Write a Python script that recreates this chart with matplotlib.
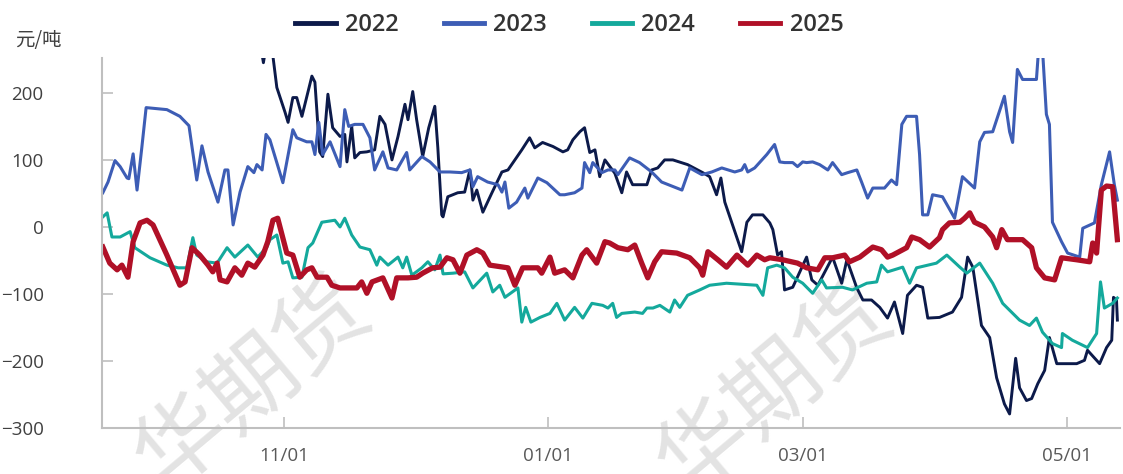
import numpy as np
import matplotlib
matplotlib.use("Agg")
import matplotlib.pyplot as plt

# x = days counted from 09/20, y = spread in 元/吨
pts_2022 = [(36.8, 265), (37.3, 245), (37.8, 265), (39.3, 265), (40.4, 208), (42.3, 171), (43.0, 156),
            (44.1, 193), (45.0, 193), (46.2, 165), (48.5, 225), (49.2, 216), (50.3, 112), (51.0, 105),
            (52.2, 198), (53.3, 148), (55.0, 135), (56.1, 138), (56.6, 97), (57.7, 150), (58.4, 103),
            (59.6, 111), (61.2, 112), (63.0, 115), (64.2, 165), (65.4, 153), (67.0, 100), (68.4, 135),
            (70.0, 183), (70.7, 160), (71.8, 202), (72.7, 160), (74.1, 105), (75.5, 148), (76.9, 180),
            (77.6, 118), (78.5, 18), (78.8, 15), (79.9, 45), (82.2, 51), (83.8, 52), (85.0, 85),
            (85.7, 40), (86.6, 55), (88.0, 22), (90.1, 51), (92.4, 82), (93.8, 85), (97.0, 115),
            (98.8, 133), (100.0, 118), (101.8, 126), (104.2, 120), (106.5, 112), (107.6, 115),
            (108.8, 130), (110.4, 142), (111.5, 148), (112.7, 111), (113.9, 115), (114.5, 93),
            (115.0, 75), (116.2, 100), (118.5, 80), (120.1, 51), (121.2, 82), (122.6, 63), (125.9, 63),
            (127.0, 85), (128.4, 88), (130.0, 100), (131.9, 100), (135.3, 93), (138.8, 81), (140.4, 75),
            (142.0, 48), (143.0, 73), (143.9, 37), (145.7, 3), (147.8, -37), (149.0, 7), (150.3, 18),
            (152.7, 18), (154.3, 6), (155.0, -4), (156.1, -42), (157.0, -37), (157.7, -94), (159.6, -90),
            (162.8, -45), (164.0, -79), (165.4, -87), (168.8, -45), (170.9, -84), (172.1, -49),
            (174.4, -91), (175.8, -109), (177.8, -109), (179.7, -120), (181.5, -136), (183.1, -112),
            (185.0, -159), (186.1, -102), (188.2, -87), (189.6, -90), (190.8, -136), (193.5, -135),
            (196.5, -127), (198.6, -105), (200.0, -45), (201.2, -60), (203.2, -147), (205.1, -165),
            (206.7, -225), (208.5, -264), (209.7, -279), (211.1, -196), (212.0, -240), (213.6, -259),
            (214.8, -256), (216.2, -234), (217.8, -214), (218.9, -165), (220.6, -204), (225.2, -204),
            (227.0, -199), (227.7, -184), (230.5, -204), (232.1, -180), (233.3, -169), (233.7, -105),
            (234.4, -109), (234.6, -139)]

pts_2023 = [(0.2, 51), (1.4, 67), (3.0, 99), (4.2, 90), (5.8, 73), (6.2, 72), (7.2, 109), (8.1, 55),
            (9.2, 118), (10.2, 178), (15.0, 175), (18.0, 165), (20.1, 151), (21.9, 70), (23.1, 121),
            (24.5, 82), (26.8, 37), (28.4, 85), (29.1, 85), (30.3, 3), (31.9, 52), (33.7, 90),
            (35.1, 81), (35.8, 93), (37.0, 85), (37.9, 138), (38.8, 130), (41.8, 66), (44.1, 145),
            (45.0, 133), (47.3, 127), (48.5, 127), (49.2, 108), (50.1, 156), (51.0, 108), (52.7, 127),
            (55.0, 90), (56.1, 175), (57.0, 150), (58.4, 153), (60.3, 153), (61.9, 133), (63.0, 85),
            (64.9, 112), (66.1, 88), (68.1, 85), (70.4, 111), (71.1, 85), (73.9, 105), (75.8, 97),
            (78.1, 82), (80.4, 82), (83.1, 81), (85.0, 85), (85.7, 60), (86.8, 75), (89.1, 67),
            (91.5, 63), (92.4, 52), (93.1, 67), (94.0, 28), (95.8, 37), (97.7, 58), (98.4, 43),
            (100.7, 73), (102.8, 66), (105.8, 48), (106.9, 48), (109.2, 51), (110.9, 58), (111.5, 96),
            (112.7, 81), (113.4, 96), (115.5, 81), (116.9, 85), (118.5, 85), (119.2, 78), (121.9, 103),
            (124.2, 96), (127.0, 82), (129.3, 67), (132.8, 58), (134.0, 55), (135.8, 88), (138.6, 78),
            (140.9, 82), (143.2, 88), (146.2, 82), (147.8, 85), (148.5, 93), (149.2, 82), (150.8, 88),
            (153.6, 108), (155.4, 123), (156.6, 97), (157.7, 96), (159.6, 96), (160.7, 90), (161.9, 97),
            (162.8, 96), (164.2, 97), (165.8, 93), (167.7, 85), (168.8, 96), (170.9, 78), (172.3, 81),
            (174.4, 85), (175.5, 67), (176.9, 43), (178.1, 58), (180.8, 58), (182.4, 70), (183.6, 63),
            (184.8, 153), (185.9, 165), (188.2, 165), (188.9, 108), (189.6, 18), (190.8, 18),
            (191.9, 48), (194.2, 45), (197.0, 13), (198.8, 75), (201.6, 58), (202.8, 127), (203.9, 141),
            (205.8, 142), (208.5, 195), (209.7, 142), (210.4, 126), (211.5, 235), (212.7, 220),
            (215.9, 220), (216.4, 265), (217.3, 265), (218.2, 168), (218.9, 153), (219.6, 7),
            (221.7, -22), (223.1, -39), (225.9, -45), (226.6, -2), (229.3, 6), (230.9, 63),
            (232.8, 112), (233.9, 63), (234.6, 40)]

pts_2024 = [(0.2, 15), (1.2, 21), (2.3, -15), (4.2, -15), (6.5, -7), (7.6, -31), (11.1, -46), (15.0, -57),
            (17.6, -61), (19.6, -61), (21.0, -16), (21.9, -42), (24.2, -52), (26.6, -54), (28.9, -31),
            (30.7, -45), (33.7, -27), (36.0, -45), (38.1, -30), (38.8, -19), (40.4, -12), (41.8, -54),
            (43.0, -52), (44.1, -76), (46.2, -75), (47.6, -31), (48.7, -24), (50.8, 7), (53.8, 10),
            (55.0, 0), (56.1, 13), (57.7, -12), (59.6, -30), (61.9, -34), (63.5, -57), (64.2, -45),
            (66.1, -57), (68.4, -45), (69.5, -61), (70.4, -45), (71.6, -72), (73.9, -61), (75.3, -52),
            (76.9, -64), (78.1, -42), (78.8, -70), (81.1, -69), (83.8, -67), (85.7, -91), (88.9, -69),
            (90.3, -97), (91.9, -87), (93.1, -105), (96.1, -91), (97.0, -142), (97.9, -120),
            (99.1, -142), (101.2, -135), (103.5, -129), (105.1, -114), (106.9, -139), (109.2, -120),
            (111.1, -136), (113.2, -114), (115.7, -117), (116.9, -121), (118.0, -114), (118.9, -135),
            (120.1, -129), (123.1, -127), (124.9, -129), (125.9, -121), (127.3, -121), (128.9, -117),
            (131.2, -127), (132.3, -109), (133.5, -120), (135.3, -102), (138.1, -94), (140.4, -87),
            (144.3, -84), (151.3, -87), (152.7, -102), (153.8, -61), (155.9, -57), (157.7, -61),
            (159.6, -75), (161.9, -84), (164.2, -99), (166.3, -79), (167.4, -91), (171.1, -90),
            (173.4, -94), (176.7, -84), (179.0, -82), (180.1, -57), (181.5, -67), (185.0, -60),
            (186.6, -84), (188.2, -61), (192.8, -54), (195.2, -42), (198.2, -60), (199.8, -69),
            (202.8, -54), (205.8, -84), (208.1, -114), (212.0, -139), (214.3, -147), (215.9, -136),
            (217.3, -157), (219.6, -174), (221.7, -180), (221.9, -159), (224.2, -169), (227.7, -180),
            (229.8, -159), (230.7, -82), (231.6, -121), (233.5, -114), (234.6, -106)]

pts_2025 = [(0.2, -30), (1.8, -54), (3.5, -64), (4.6, -57), (6.0, -75), (7.2, -22), (8.8, 6), (10.4, 10),
            (11.8, 3), (15.0, -42), (18.0, -87), (19.2, -82), (20.8, -31), (22.6, -42), (24.5, -57),
            (25.6, -67), (26.6, -54), (27.3, -79), (28.9, -82), (30.7, -61), (32.3, -72), (33.7, -54),
            (35.3, -60), (37.2, -42), (38.3, -22), (39.5, 10), (40.6, 13), (41.6, -12), (42.7, -39),
            (44.1, -42), (45.7, -75), (47.3, -64), (48.5, -61), (49.7, -75), (52.0, -75), (53.1, -87),
            (55.0, -91), (58.9, -91), (60.0, -82), (61.2, -99), (62.4, -82), (64.9, -76), (67.0, -106),
            (68.1, -76), (70.7, -76), (72.7, -75), (74.1, -69), (76.4, -61), (78.1, -60), (79.7, -46),
            (81.1, -49), (82.7, -69), (84.3, -42), (86.6, -34), (88.0, -39), (89.6, -57), (93.8, -61),
            (95.4, -87), (97.2, -61), (100.7, -61), (101.6, -69), (103.5, -45), (104.6, -69),
            (106.9, -64), (108.8, -76), (110.9, -42), (112.0, -34), (114.3, -54), (116.2, -22),
            (117.3, -24), (119.2, -31), (121.5, -34), (123.1, -27), (124.7, -54), (126.1, -76),
            (127.7, -52), (129.3, -37), (132.8, -39), (135.8, -46), (138.1, -61), (138.8, -72),
            (140.0, -37), (142.3, -49), (144.3, -60), (146.7, -42), (149.2, -57), (151.3, -42),
            (153.1, -49), (154.3, -46), (157.3, -49), (160.7, -54), (162.8, -61), (165.4, -64),
            (167.0, -46), (168.8, -46), (171.6, -42), (172.7, -52), (175.1, -45), (178.1, -30),
            (180.1, -34), (181.5, -45), (182.7, -42), (185.9, -31), (187.1, -15), (188.9, -19),
            (191.2, -30), (193.5, -16), (194.2, -4), (195.8, 6), (198.2, 7), (199.3, 13), (200.5, 21),
            (201.6, 7), (203.9, 0), (205.8, -15), (206.7, -31), (207.9, -4), (209.2, -19), (212.7, -19),
            (214.8, -31), (215.9, -61), (217.8, -76), (220.1, -79), (221.7, -46), (225.2, -49),
            (228.2, -52), (228.9, -24), (229.8, -39), (230.9, 55), (232.1, 61), (233.5, 60),
            (234.6, -19)]

series = ["2022", "2023", "2024", "2025"]
colors = ["#0c1a4a", "#3d5db5", "#14a99c", "#b01027"]
widths = [2.1, 2.2, 2.2, 3.8]
tick_days = [42, 103, 162, 223]
tick_labels = ["11/01", "01/01", "03/01", "05/01"]
y_ticks = [-300, -200, -100, 0, 100, 200]

plt.rcParams["font.family"] = ["Open Sans", "DejaVu Sans"]

fig = plt.figure(figsize=(11.23, 4.74), dpi=100)
ax = fig.add_axes([0.0908, 0.097, 0.9065, 0.7806])
ax.patch.set_alpha(0)

# faint watermark behind everything
for wx, wy in [(0.105, -0.075), (0.57, -0.085)]:
    fig.text(wx, wy, "华期货", fontsize=66, color="#e3e3e3", rotation=40,
             family=["Noto Sans CJK SC"], ha="left", va="bottom", zorder=-5)

for name, pts, c, lw in zip(series, [pts_2022, pts_2023, pts_2024, pts_2025], colors, widths):
    arr = np.array(pts, dtype=float)
    ax.plot(arr[:, 0], arr[:, 1], color=c, lw=lw, label=name, solid_joinstyle="round")

ax.set_xlim(0, 235.2)
ax.set_ylim(-300, 252)
ax.set_xticks(tick_days)
ax.set_xticklabels(tick_labels)
ax.set_yticks(y_ticks)
ax.set_yticklabels([str(v).replace("-", "\u2212") for v in y_ticks])

for s in ["top", "right"]:
    ax.spines[s].set_visible(False)
for s in ["left", "bottom"]:
    ax.spines[s].set_color("#bfbfbf")
    ax.spines[s].set_linewidth(1.5)

ax.tick_params(axis="y", direction="in", length=8, width=1.2, color="#bfbfbf",
               labelsize=13.5, labelcolor="#404040", pad=42)
ax.tick_params(axis="x", direction="in", length=8, width=1.2, color="#bfbfbf",
               labelsize=13.5, labelcolor="#595959", pad=14)

fig.text(0.013, 0.903, "元/吨", fontsize=14, color="#404040", family=["Noto Sans CJK SC"])

leg = fig.legend(loc="center", bbox_to_anchor=(0.507, 0.947), ncol=4, frameon=False,
                 handlelength=1.7, handletextpad=0.4, columnspacing=1.9,
                 prop={"size": 17, "weight": "semibold"})
for t in leg.get_texts():
    t.set_color("#333333")
for h in leg.get_lines():
    h.set_linewidth(3.5)

fig.savefig("out.png", dpi=100)
